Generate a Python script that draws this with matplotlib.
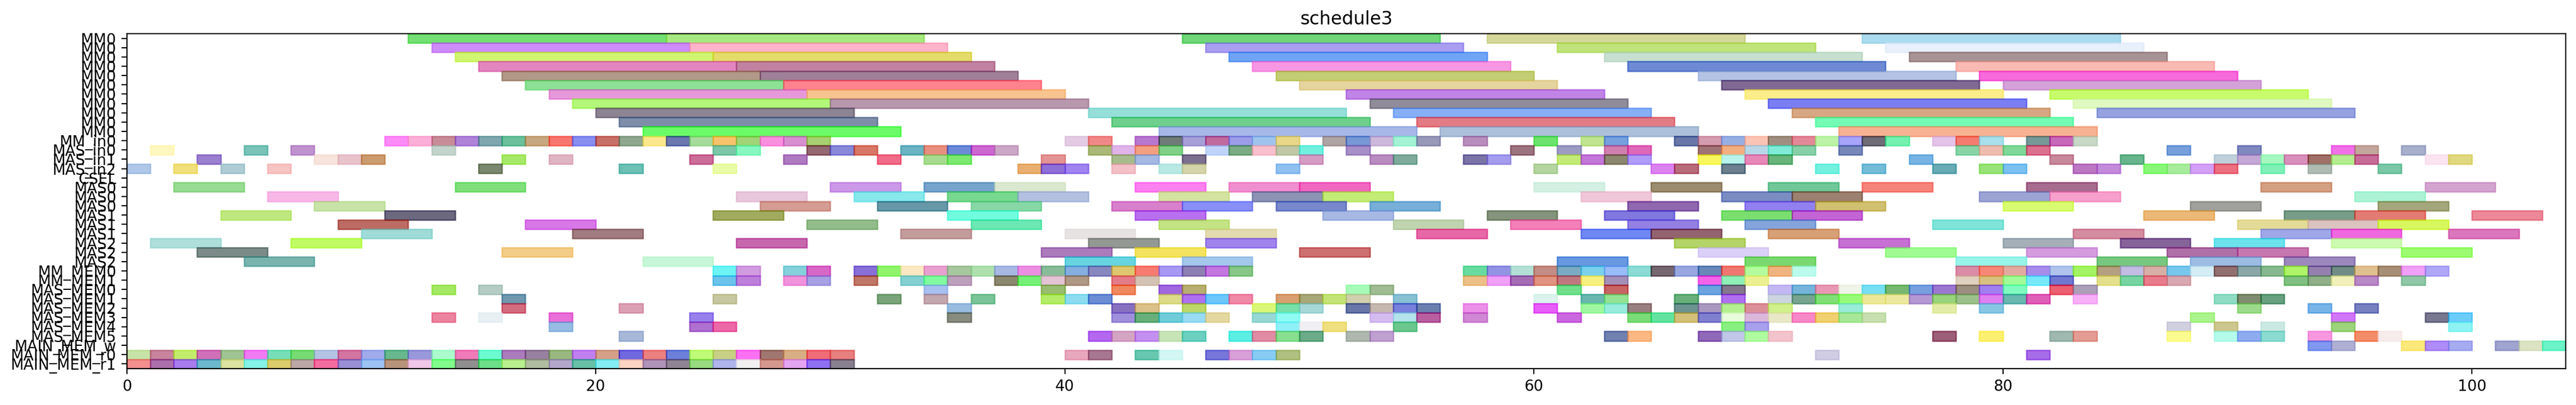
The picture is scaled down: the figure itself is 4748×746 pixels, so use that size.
import matplotlib
matplotlib.use("Agg")
import matplotlib.pyplot as plt
import numpy as np
from matplotlib.colors import to_rgb

# ---------------- data ----------------
ROW_LABELS = (["MM0"] * 11
              + ["MM_in0", "MAS_in0", "MAS_in1", "MAS_in2", "CSEL"]
              + ["MAS0"] * 3 + ["MAS1"] * 3 + ["MAS2"] * 3
              + ["MM_MEM0", "MM_MEM1"]
              + ["MAS_MEM0", "MAS_MEM1", "MAS_MEM2", "MAS_MEM3", "MAS_MEM4", "MAS_MEM5"]
              + ["MAIN_MEM_w", "MAIN_MEM_r0", "MAIN_MEM_r1"])

# MM0 rows: (row, start, duration, colour)
MM0_TASKS = [
    (0, 12, 11, '#74e074'), (0, 23, 11, '#a8e880'), (0, 45, 11, '#70d67a'), (0, 58, 11, '#d4d89a'), (0, 74, 11, '#acdcee'),
    (1, 13, 11, '#cf8cfc'), (1, 24, 11, '#fdb3ca'), (1, 46, 11, '#a99ff0'), (1, 61, 11, '#c0e47c'), (1, 75, 11, '#e8f0fc'),
    (2, 14, 11, '#d0f570'), (2, 25, 11, '#e4dc6a'), (2, 47, 11, '#70a5f5'), (2, 63, 11, '#c8e0d0'), (2, 76, 11, '#a89496'),
    (3, 15, 11, '#e486c0'), (3, 26, 11, '#c083a0'), (3, 48, 11, '#f797e4'), (3, 64, 11, '#6e8ad4'), (3, 78, 11, '#f9bab4'),
    (4, 16, 11, '#b29888'), (4, 27, 11, '#a08098'), (4, 49, 11, '#c4cf74'), (4, 67, 11, '#b4c4e4'), (4, 79, 11, '#f76bdc'),
    (5, 17, 11, '#8de296'), (5, 28, 11, '#ff8290'), (5, 50, 11, '#e6d49e'), (5, 68, 11, '#806a94'), (5, 80, 11, '#d4a2da'),
    (6, 18, 11, '#e698dc'), (6, 29, 11, '#f8c490'), (6, 52, 11, '#c084e6'), (6, 69, 11, '#fbee8a'), (6, 82, 11, '#c8fc6c'),
    (7, 19, 11, '#b2f87a'), (7, 30, 11, '#b898ae'), (7, 53, 11, '#928c9a'), (7, 70, 11, '#7c7ef4'), (7, 83, 11, '#e0f9c0'),
    (8, 20, 11, '#8c8494'), (8, 41, 11, '#96e0d8'), (8, 54, 11, '#86b0f6'), (8, 71, 11, '#d6a882'), (8, 84, 11, '#96a2e0'),
    (9, 21, 11, '#7e8eaa'), (9, 42, 11, '#6fd08c'), (9, 55, 11, '#e47c84'), (9, 72, 11, '#74fcb4'),
    (10, 22, 11, '#6cfc68'), (10, 44, 11, '#a8b8e8'), (10, 56, 11, '#aec0da'), (10, 73, 11, '#f8b294'),
]

# unit-length tasks: {start: colour}
MM_IN0 = {11: '#fc8cf8', 12: '#fcb0d8', 13: '#c88c98', 14: '#b084d8', 15: '#80a8b0', 16: '#6cc09c',
          17: '#c8a880', 18: '#f87870', 19: '#8890f0', 20: '#c87068', 21: '#90a890', 22: '#fce88c',
          23: '#6c78b0', 24: '#a8dc9c', 25: '#f8c46c', 26: '#a0d478', 27: '#fc90e0', 28: '#d890d0',
          29: '#a8d070', 40: '#e4cce4', 41: '#f08888', 43: '#b878d0', 44: '#707c78', 45: '#a8a0d8',
          46: '#c06aa0', 47: '#9c9ce8', 48: '#a0c4ec', 49: '#e8d888', 51: '#b0a4a4', 52: '#7898d4',
          53: '#ccb8dc', 54: '#a4f4d4', 55: '#9898b8', 57: '#b890bc', 60: '#6ce46c', 62: '#c0e490',
          63: '#78a0e0', 66: '#6878a8', 67: '#d49cb0', 68: '#98b0e4', 69: '#fcc4b4', 70: '#a09080',
          71: '#e48898', 72: '#bcf4a8', 73: '#a8a4fc', 74: '#706c78', 75: '#74f0b0', 77: '#e4c4e8',
          78: '#f47c70', 79: '#a8e0ec', 81: '#789898', 82: '#c868b8', 83: '#c8d8c8'}

MAS_IN0 = {1: '#fff8c0', 5: '#7ac4b8', 7: '#c094d0', 13: '#c4d4cc', 25: '#7cc8a8', 26: '#88f8c0',
           29: '#946870', 30: '#8888d8', 31: '#d87868', 33: '#6cb4c4', 34: '#e89080', 35: '#6c8ad8',
           36: '#cc68d0', 37: '#cca8c8', 41: '#acb878', 42: '#e0b4e8', 43: '#f4a080', 44: '#80d088',
           46: '#c0d4fc', 47: '#7cac84', 48: '#f8c0cc', 49: '#c0c8a8', 50: '#70f0e0', 52: '#a890c8',
           59: '#9c7480', 61: '#9c9cc4', 63: '#d080b0', 64: '#e068b8', 67: '#a07478', 68: '#f4b080',
           69: '#b8d8e8', 70: '#80ecd8', 71: '#88d0a8', 73: '#7888b8', 78: '#88d4a8', 79: '#ecbcb0',
           80: '#80d898', 81: '#dc7090', 87: '#78a0dc', 90: '#8088c0', 94: '#f070e8', 95: '#c4a89c',
           97: '#a8b0cc'}

MAS_IN1 = {3: '#9c80d0', 8: '#f8e4dc', 9: '#e8c4cc', 10: '#cc9c70', 16: '#a8e868', 18: '#e0b4c4',
           24: '#cc6c98', 28: '#b07cc0', 32: '#f06c88', 34: '#a8dc90', 35: '#7ce870', 39: '#e49494',
           42: '#a8bc8c', 43: '#a4b8e4', 45: '#7c7090', 50: '#d49cc4', 53: '#b88cc0', 54: '#80ac9c',
           57: '#7c74a8', 58: '#a49cec', 61: '#c4ea78', 62: '#c478d8', 63: '#8c8870', 64: '#b09cf8',
           67: '#f8f860', 68: '#b8f4ec', 69: '#e888b8', 70: '#68b47c', 76: '#78b4e4', 82: '#c8889c',
           85: '#68b48c', 89: '#c0d0dc', 90: '#c4a8d4', 91: '#a8f8c0', 92: '#d890bc', 93: '#a07068',
           94: '#b4ec90', 95: '#c86c98', 98: '#fce4f0', 99: '#e0d880'}

MAS_IN2 = {0: '#b0c8e8', 2: '#f0e07c', 4: '#b0ccd4', 6: '#f8c4c4', 15: '#7c8870', 21: '#6cc0b4',
           25: '#e8fca8', 38: '#e8b070', 39: '#9070d8', 40: '#a084f0', 42: '#f4c0c8', 44: '#b8e8e4',
           45: '#d4d4ac', 49: '#90c0f0', 60: '#b4d4a0', 65: '#dc84f0', 66: '#b86c7c', 68: '#6c8090',
           72: '#74f0e0', 74: '#74bcd8', 77: '#68acb4', 79: '#98e478', 80: '#7cc0f0', 83: '#bc78c4',
           84: '#c48cdc', 86: '#88f878', 87: '#a8ec9c', 88: '#d4a0f8', 89: '#ec7080', 91: '#80f0b8',
           93: '#b0bcb4', 96: '#7cc8a8'}

CSEL = {}

# MAS rows: (row, start, duration, colour)
MAS_TASKS = [
    (16, 2, 3, '#98dc94'), (16, 14, 3, '#80e07c'), (16, 30, 3, '#cc98e8'), (16, 34, 3, '#78a4cc'),
    (16, 37, 3, '#dce8d0'), (16, 43, 3, '#fc80f0'), (16, 47, 3, '#f090d0'), (16, 50, 3, '#f068c0'),
    (16, 60, 3, '#d4f0e4'), (16, 65, 3, '#9c8c70'), (16, 70, 3, '#70c898'), (16, 74, 3, '#f6847c'),
    (16, 81, 3, '#a86c90'), (16, 91, 3, '#d4a084'), (16, 98, 3, '#d4a4d0'),
    (17, 6, 3, '#f8b8e8'), (17, 26, 3, '#e8c8dc'), (17, 31, 3, '#88e8ec'), (17, 35, 3, '#78d890'),
    (17, 38, 3, '#b4c0e0'), (17, 44, 3, '#d4e4a0'), (17, 48, 3, '#8c94b4'), (17, 51, 3, '#c4ec78'),
    (17, 62, 3, '#f0c8d8'), (17, 68, 3, '#7c8cc4'), (17, 71, 3, '#9c8070'), (17, 79, 3, '#9ca4d4'),
    (17, 82, 3, '#f8a0cc'), (17, 95, 3, '#acf4d4'),
    (18, 8, 3, '#c8e4a8'), (18, 27, 3, '#d49c94'), (18, 32, 3, '#6898a8'), (18, 36, 3, '#88d8a8'),
    (18, 42, 3, '#d880cc'), (18, 45, 3, '#8890f8'), (18, 49, 3, '#7888cc'), (18, 53, 3, '#78b0d8'),
    (18, 64, 3, '#9068b0'), (18, 69, 3, '#9480f0'), (18, 72, 3, '#d0c070'), (18, 80, 3, '#d8fc70'),
    (18, 88, 3, '#a0a09c'), (18, 96, 3, '#a4a87c'),
    (19, 4, 3, '#c0e880'), (19, 11, 3, '#6c6880'), (19, 25, 3, '#a0ac60'), (19, 35, 3, '#70fce0'),
    (19, 43, 3, '#b870f0'), (19, 51, 3, '#a8b8e4'), (19, 58, 3, '#84947c'), (19, 63, 3, '#8078e0'),
    (19, 68, 3, '#7ce070'), (19, 71, 3, '#c464d4'), (19, 86, 3, '#ecb878'), (19, 92, 3, '#789c88'),
    (19, 95, 3, '#e47c74'), (19, 100, 3, '#ec8898'),
    (20, 9, 3, '#bc6c64'), (20, 17, 3, '#d878e8'), (20, 29, 3, '#94bc8c'), (20, 36, 3, '#6ce8b4'),
    (20, 44, 3, '#c4e484'), (20, 54, 3, '#c0d4b0'), (20, 59, 3, '#f480b8'), (20, 64, 3, '#9480e4'),
    (20, 69, 3, '#84a4dc'), (20, 77, 3, '#80e4d8'), (20, 90, 3, '#e4dc98'), (20, 93, 3, '#dcc4c0'),
    (20, 96, 3, '#d8f860'),
    (21, 10, 3, '#a0dcd8'), (21, 19, 3, '#a07c80'), (21, 33, 3, '#c49c9c'), (21, 40, 3, '#e8e4e4'),
    (21, 46, 3, '#e4dcb0'), (21, 55, 3, '#e868a8'), (21, 62, 3, '#7088f4'), (21, 65, 3, '#946470'),
    (21, 70, 3, '#d8a078'), (21, 83, 3, '#d48ca0'), (21, 91, 3, '#a0a8e8'), (21, 94, 3, '#f068e0'),
    (21, 99, 3, '#dc78bc'),
    (22, 1, 3, '#b0e0dc'), (22, 7, 3, '#c0fc64'), (22, 26, 3, '#c868b0'), (22, 41, 3, '#949894'),
    (22, 46, 3, '#a084ec'), (22, 66, 3, '#b4d468'), (22, 73, 3, '#c870d4'), (22, 80, 3, '#a4b0b8'),
    (22, 85, 3, '#86649a'), (22, 89, 3, '#6ce4ec'), (22, 94, 3, '#ccfcb0'),
    (23, 3, 3, '#7c8c88'), (23, 16, 3, '#f4cc88'), (23, 39, 3, '#ac7cbc'), (23, 43, 3, '#f4e460'),
    (23, 50, 3, '#cc7070'), (23, 67, 3, '#dcd0f8'), (23, 75, 3, '#a0fc94'), (23, 81, 3, '#d49ce0'),
    (23, 87, 3, '#b070a8'), (23, 90, 3, '#c878b0'), (23, 97, 3, '#9cfc70'),
    (24, 5, 3, '#7ab4b0'), (24, 22, 3, '#c8f8d8'), (24, 40, 3, '#68d4e0'), (24, 45, 3, '#a4c8ec'),
    (24, 61, 3, '#6898e0'), (24, 69, 3, '#7cd870'), (24, 78, 3, '#98f4e8'), (24, 84, 3, '#78c880'),
    (24, 88, 3, '#9cbce4'), (24, 92, 3, '#9c88bc'),
]

MM_MEM0 = {25: '#6cf4f4', 26: '#d09ce0', 28: '#84d0dc', 29: '#d868c8', 31: '#8870d8', 32: '#90f46c',
           33: '#fce8c4', 34: '#e8a0d0', 35: '#a8c8a0', 36: '#b0e0b0', 37: '#a8b8e4', 38: '#ec90e4',
           39: '#88bc98', 40: '#84b0e0', 41: '#8888c0', 42: '#e0c870', 43: '#f87c70', 44: '#a898f4',
           45: '#9080b4', 46: '#c478e0', 47: '#88c888', 57: '#68dca0', 58: '#9494e4', 59: '#b4e0d4',
           60: '#c48c84', 61: '#7cacc4', 62: '#7cd0ec', 63: '#98bcf8', 64: '#8cdcd4', 65: '#786870',
           66: '#98a8e0', 67: '#6888b8', 68: '#f07870', 69: '#b4fca0', 70: '#f0b480', 71: '#bcfcec',
           78: '#dc8ca8', 79: '#f88878', 80: '#e4aca0', 81: '#a88cec', 82: '#b0c4ec', 83: '#a4f464',
           84: '#b4a080', 85: '#c4bce4', 86: '#d8b0a8', 87: '#78c8ec', 88: '#d4ecf4', 89: '#947070',
           90: '#8ca8a8', 91: '#88b890', 92: '#b0f468', 93: '#9480b0', 94: '#708c84', 95: '#e0c090',
           96: '#a89078', 97: '#f0a0f8', 98: '#b0a8f8'}

MM_MEM1 = {25: '#6cc4ec', 26: '#bc80dc', 28: '#f094dc', 29: '#a8a0e4', 31: '#c07868', 33: '#84d0d0',
           34: '#80fca0', 35: '#bca0bc', 37: '#8c8870', 38: '#78f078', 39: '#e4c4d4', 40: '#b09884',
           42: '#e47c88', 43: '#d4c4b4', 57: '#ecc088', 58: '#f0a0f8', 59: '#a46cb4', 60: '#e09480',
           61: '#c07880', 62: '#f8f080', 63: '#a490b8', 67: '#f464e8', 68: '#90f0b8', 69: '#ecf094',
           78: '#e0d0c0', 79: '#d8c080', 80: '#a0fc98', 81: '#78e8fc', 82: '#7078d0', 84: '#e4e08c',
           85: '#78d4a0', 86: '#e87c8c', 87: '#d8a8b0', 92: '#80c080', 93: '#90b088', 94: '#f0f0b8',
           95: '#b888c8', 97: '#90c8a8'}

MAS_MEM0 = {13: '#a4e864', 15: '#b4ccc4', 34: '#a8c0f0', 39: '#98bc70', 42: '#f08860', 44: '#a068e0',
            45: '#b8b070', 52: '#a8fcb8', 53: '#a0bc94', 61: '#70e08c', 63: '#c86464', 67: '#6ca4e0',
            68: '#84788c', 70: '#c4b8f4', 71: '#78b4dc', 72: '#e898b4', 73: '#f0f4e8', 74: '#78e0f4',
            75: '#78b870', 76: '#78a0e0', 77: '#9c78d0', 78: '#9c9080', 79: '#a080f0', 80: '#80fcc0',
            82: '#ec6070', 83: '#aca0b8'}

MAS_MEM1 = {16: '#7098b0', 25: '#c8c8a0', 32: '#7ca47c', 34: '#c4a8b0', 36: '#7cc498', 39: '#b4ec68',
            40: '#8cdcf0', 41: '#6c8cd4', 44: '#dcdc88', 45: '#b070f0', 46: '#6cc8fc', 47: '#f088a8',
            49: '#d8a070', 50: '#a8a878', 51: '#c4e478', 52: '#d0d0b0', 54: '#88c0d4', 60: '#dcf4ec',
            62: '#68b8b0', 63: '#94e494', 66: '#68b07c', 68: '#b070f0', 70: '#ccd4e0', 71: '#78a490',
            72: '#80e078', 73: '#98fc78', 74: '#ece898', 75: '#ece8a0', 76: '#b498d4', 77: '#98d47c',
            78: '#9cc08c', 79: '#e080f0', 80: '#68b8b0', 81: '#e060b8', 83: '#f8b0f8', 89: '#90dcc4',
            90: '#808c70', 91: '#68a080'}

MAS_MEM2 = {16: '#d46c80', 21: '#dca0b4', 35: '#98bce0', 42: '#8870c0', 43: '#dcc088', 45: '#bcd868',
            48: '#dcf878', 49: '#78e0a8', 50: '#a8d8d8', 52: '#6878a8', 53: '#c8b8b0', 54: '#7880dc',
            55: '#6c80b0', 57: '#ec90e8', 60: '#e860f8', 62: '#a0f8a0', 63: '#98ecdc', 64: '#988080',
            66: '#6c9490', 67: '#ac98c0', 68: '#b4f090', 69: '#dc9098', 70: '#d0f08c', 73: '#98ecd8',
            77: '#e4eca8', 79: '#88c8e4', 90: '#9cdc8c', 93: '#78b4e8', 95: '#7880c0'}

MAS_MEM3 = {13: '#ec84a0', 15: '#e8f0f4', 18: '#e870d8', 24: '#9880ec', 35: '#888c80', 42: '#a090dc',
            43: '#68b07c', 44: '#70ccd8', 45: '#98dcf4', 46: '#e4d8a0', 48: '#98d8d4', 49: '#90fcf4',
            53: '#d4bcf0', 54: '#b4e4ec', 55: '#b860a0', 57: '#d088d4', 61: '#cc68e0', 64: '#7cdc78',
            65: '#64e4a0', 66: '#d4c078', 67: '#8080d0', 68: '#e8fcdc', 69: '#dcb8dc', 70: '#e8e8c8',
            71: '#f888c8', 72: '#f0d070', 73: '#a8e898', 74: '#c8e0b0', 88: '#acf48c', 94: '#d078f8',
            98: '#787890', 99: '#6cccfc'}

MAS_MEM4 = {18: '#98bce4', 24: '#b070d0', 25: '#ec68a8', 49: '#90f0f8', 50: '#f0f0f4', 51: '#f0e080',
            54: '#6cc890', 68: '#88f080', 69: '#a8a0ec', 87: '#d0d0e0', 89: '#ccc890', 91: '#cce8e4',
            94: '#9cd47c', 99: '#90f4f4'}

MAS_MEM5 = {21: '#a8b8d8', 41: '#b468f0', 42: '#d4a4c4', 43: '#c490f0', 44: '#c8e4b8', 45: '#6cd0c0',
            47: '#5ceee4', 48: '#e08ca4', 49: '#88e090', 50: '#6cac88', 52: '#b0b8b0', 53: '#c0a0d0',
            63: '#7080b0', 64: '#fcb884', 67: '#9068b8', 68: '#c0c8e8', 69: '#b0fca0', 70: '#f4c4cc',
            77: '#9c6078', 79: '#fcf070', 82: '#a0b8b0', 83: '#e49c94', 87: '#fcfc90', 89: '#b4fcec',
            90: '#90acf0', 91: '#8cdcd0', 93: '#f898e0', 95: '#f48c68', 96: '#f8ecec'}

MAIN_MEM_W = {93: '#8098f0', 94: '#b0b0d4', 97: '#fce87c', 98: '#b08cf8', 99: '#a8acf0',
              101: '#a0a4d0', 102: '#dce4c4', 103: '#6cf4c8'}

MAIN_MEM_R0 = {0: '#c8e4a8', 1: '#c8849c', 2: '#c4ec6c', 3: '#d070b8', 4: '#a0c494', 5: '#f07cf4',
               6: '#78e0b8', 7: '#78dc74', 8: '#b4c4e4', 9: '#d474a0', 10: '#a0acec', 11: '#68b890',
               12: '#9898dc', 13: '#acfccc', 14: '#f07cb8', 15: '#6cfcd0', 16: '#ac7cbc', 17: '#9880a0',
               18: '#98b880', 19: '#c080f0', 20: '#d4a088', 21: '#7068e0', 22: '#ec8080', 23: '#6c80dc',
               24: '#c0fc78', 25: '#c8d084', 26: '#fc70f4', 27: '#a07870', 28: '#d8b084', 29: '#f06c78',
               30: '#e88080', 40: '#e8a8bc', 41: '#a87890', 43: '#68c8b0', 44: '#d4f8f4', 46: '#7878dc',
               47: '#d8a0d8', 48: '#88ccf4', 49: '#b0c080', 72: '#d0cce4', 81: '#a86ce8'}

MAIN_MEM_R1 = {0: '#f49090', 1: '#ac70ac', 2: '#a87cec', 3: '#6cb8cc', 4: '#dce4a0', 5: '#84f4e8',
               6: '#dccc6c', 7: '#bca8a8', 8: '#f46ca0', 9: '#9890d4', 10: '#9cc4f4', 11: '#b8947c',
               12: '#f0c8e8', 13: '#80fc8c', 14: '#909090', 15: '#6ce088', 16: '#b8f090', 17: '#b0bca0',
               18: '#b4a8cc', 19: '#68c0a8', 20: '#84ecf4', 21: '#fcd4c4', 22: '#b094b8', 23: '#908494',
               24: '#98dc80', 25: '#b0b4ec', 26: '#f0f0f0', 27: '#d49890', 28: '#e4a4f0', 29: '#9070f4',
               30: '#888090'}

UNIT_ROWS = [(11, MM_IN0), (12, MAS_IN0), (13, MAS_IN1), (14, MAS_IN2), (15, CSEL),
             (25, MM_MEM0), (26, MM_MEM1), (27, MAS_MEM0), (28, MAS_MEM1), (29, MAS_MEM2),
             (30, MAS_MEM3), (31, MAS_MEM4), (32, MAS_MEM5), (33, MAIN_MEM_W),
             (34, MAIN_MEM_R0), (35, MAIN_MEM_R1)]
UNIT_DURATION = 1

# ---------------- style ----------------
ALPHA = 0.65
EDGE_LW = 0.9


def base_colour(display_hex):
    """colour that shows as display_hex when drawn with ALPHA over white"""
    d = np.array(to_rgb(display_hex))
    return tuple(np.clip((d - (1 - ALPHA)) / ALPHA, 0, 1))


fig = plt.figure(figsize=(23.74, 3.73), dpi=200)
ax = fig.add_axes([0.0492, 0.0898, 0.9468, 0.8271])


def draw(row, start, dur, col):
    c = base_colour(col)
    ax.barh(row, dur, left=start, height=1.0, color=c, alpha=ALPHA,
            edgecolor=c, linewidth=EDGE_LW)


for row, start, dur, col in MM0_TASKS + MAS_TASKS:
    draw(row, start, dur, col)
for row, tasks in UNIT_ROWS:
    for start, col in tasks.items():
        draw(row, start, UNIT_DURATION, col)

ax.set_yticks(range(len(ROW_LABELS)))
ax.set_yticklabels(ROW_LABELS)
ax.set_ylim(len(ROW_LABELS) - 0.5, -0.5)
ax.set_xlim(0, 104)
ax.set_xticks([0, 20, 40, 60, 80, 100])
ax.set_title("schedule3")

fig.savefig("out.png", dpi=200)
